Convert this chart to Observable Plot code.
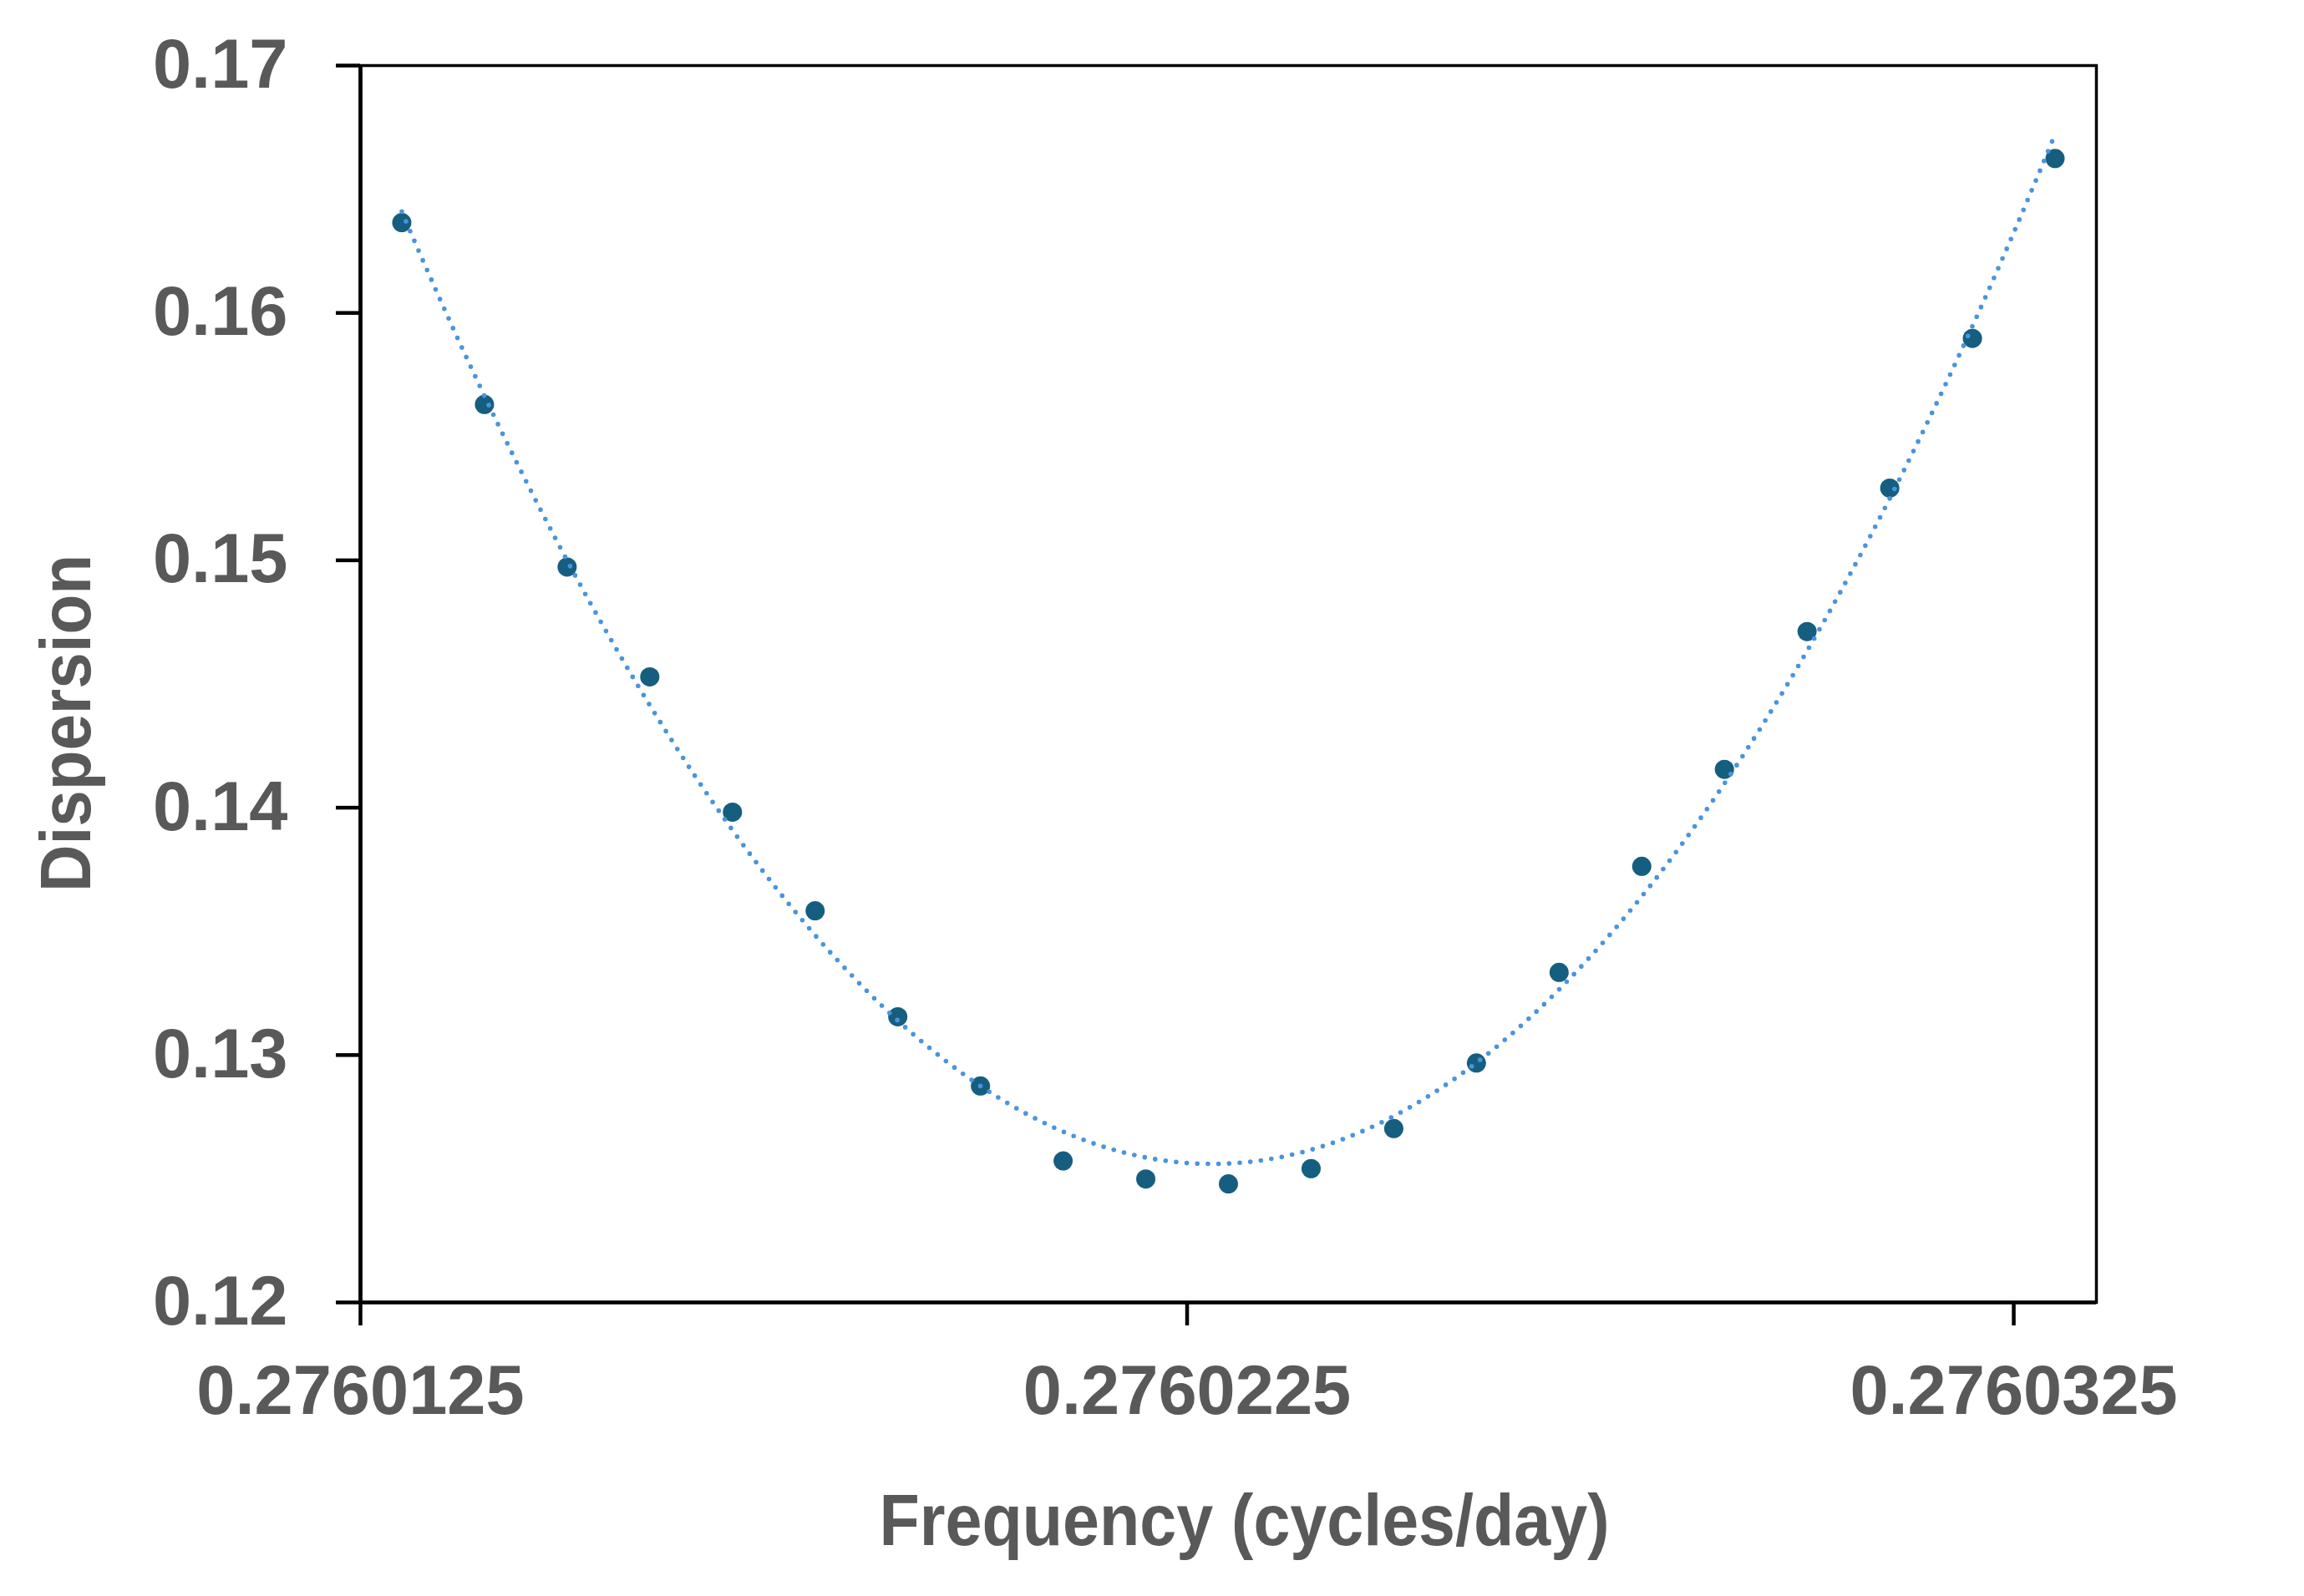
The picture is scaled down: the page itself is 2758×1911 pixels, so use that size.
<!DOCTYPE html>
<html>
<head>
<meta charset="utf-8">
<script src="https://cdn.jsdelivr.net/npm/d3@7"></script>
<script src="https://cdn.jsdelivr.net/npm/@observablehq/plot@0.6"></script>
<style>
  html, body { margin: 0; padding: 0; background: #ffffff; }
  #chart { width: 2758px; height: 1911px; }
</style>
</head>
<body>
<div id="chart"></div>
<script>
// ---- data ----
const frequency = [
  0.2760130, 0.2760140, 0.2760150, 0.2760160, 0.2760170, 0.2760180, 0.2760190,
  0.2760200, 0.2760210, 0.2760220, 0.2760230, 0.2760240, 0.2760250, 0.2760260,
  0.2760270, 0.2760280, 0.2760290, 0.2760300, 0.2760310, 0.2760320, 0.2760330
];
const dispersion = [
  0.16365, 0.15630, 0.14973, 0.14529, 0.13982, 0.13583, 0.13155,
  0.12875, 0.12572, 0.12499, 0.12479, 0.12541, 0.12703, 0.12968,
  0.13334, 0.13763, 0.14155, 0.14712, 0.15292, 0.15897, 0.16624
];
const xTicks = [0.2760125, 0.2760225, 0.2760325];
const yTicks = [0.12, 0.13, 0.14, 0.15, 0.16, 0.17];
const xLabel = "Frequency (cycles/day)";
const yLabel = "Dispersion";

const points = frequency.map((f, i) => ({f, d: dispersion[i]}));

// ---- order-2 polynomial trendline (least squares on the data above) ----
function quadFit(xs, ys) {
  const x0 = xs[0], s = 1e-6;
  const t = xs.map(x => (x - x0) / s);
  let S = [0,0,0,0,0], T = [0,0,0];
  t.forEach((ti, i) => {
    for (let k = 0; k < 5; k++) S[k] += Math.pow(ti, k);
    for (let k = 0; k < 3; k++) T[k] += Math.pow(ti, k) * ys[i];
  });
  const A = [[S[0],S[1],S[2],T[0]],[S[1],S[2],S[3],T[1]],[S[2],S[3],S[4],T[2]]];
  for (let c = 0; c < 3; c++) {
    for (let r = c + 1; r < 3; r++) {
      const m = A[r][c] / A[c][c];
      for (let k = c; k < 4; k++) A[r][k] -= m * A[c][k];
    }
  }
  const b = [0,0,0];
  for (let r = 2; r >= 0; r--) {
    let v = A[r][3];
    for (let k = r + 1; k < 3; k++) v -= A[r][k] * b[k];
    b[r] = v / A[r][r];
  }
  return x => { const u = (x - x0) / s; return b[0] + b[1]*u + b[2]*u*u; };
}
const fit = quadFit(frequency, dispersion);
const fMin = d3.min(frequency), fMax = d3.max(frequency);
const trend = d3.range(0, 201).map(k => {
  const f = fMin + (fMax - fMin) * k / 200;
  return {f, d: fit(f)};
});

const W = 2758, H = 1911;
const mL = 431, mR = W - 2509, mT = 78, mB = H - 1559;

const chart = Plot.plot({
  width: W,
  height: H,
  marginLeft: mL,
  marginRight: mR,
  marginTop: mT,
  marginBottom: mB,
  style: {
    background: "#ffffff",
    color: "#595959",
    fontFamily: "'Liberation Sans', Arial, sans-serif",
    fontWeight: "bold",
    fontSize: "82px"
  },
  x: {domain: [0.2760125, 0.2760335]},
  y: {domain: [0.12, 0.17]},
  marks: [
    Plot.frame({stroke: "#000000", strokeWidth: 3.5}),
    Plot.axisX({
      ticks: xTicks,
      tickFormat: d => d.toFixed(7),
      tickSize: 28,
      tickPadding: 47,
      stroke: "#000000",
      strokeWidth: 4.5,
      fill: "#595959",
      fontSize: 83,
      fontWeight: "bold",
      label: null
    }),
    Plot.axisY({
      ticks: yTicks,
      tickFormat: d => d.toFixed(2),
      tickSize: 29,
      tickPadding: 58,
      stroke: "#000000",
      strokeWidth: 4.5,
      fill: "#595959",
      fontSize: 83,
      fontWeight: "bold",
      label: null
    }),
    Plot.ruleX([0.2760125], {stroke: "#000000", strokeWidth: 4.7}),
    Plot.ruleY([0.12], {stroke: "#000000", strokeWidth: 4.7}),
    Plot.dot(points, {x: "f", y: "d", r: 11.5, fill: "#165E80", stroke: "none"}),
    Plot.line(trend, {
      x: "f", y: "d",
      stroke: "#4A94DC",
      strokeWidth: 5.6,
      strokeDasharray: "0,12.7",
      strokeLinecap: "round"
    }),
    Plot.text([xLabel], {
      frameAnchor: "bottom",
      textAnchor: "middle",
      dx: 19, dy: 262,
      lineAnchor: "middle",
      fontSize: 88,
      fontWeight: "bold",
      fill: "#595959"
    }),
    Plot.text([yLabel], {
      frameAnchor: "left",
      textAnchor: "middle",
      dx: -351, dy: 47,
      rotate: -90,
      lineAnchor: "middle",
      fontSize: 86,
      fontWeight: "bold",
      fill: "#595959"
    })
  ]
});
// condensed look of the axis titles (as in the reference)
d3.select(chart).selectAll("text").each(function() {
  const t = this.textContent;
  if (t === xLabel) d3.select(this).attr("textLength", 874).attr("lengthAdjust", "spacingAndGlyphs");
  if (t === yLabel) d3.select(this).attr("textLength", 404).attr("lengthAdjust", "spacingAndGlyphs");
});
document.getElementById("chart").appendChild(chart);
</script>
</body>
</html>
